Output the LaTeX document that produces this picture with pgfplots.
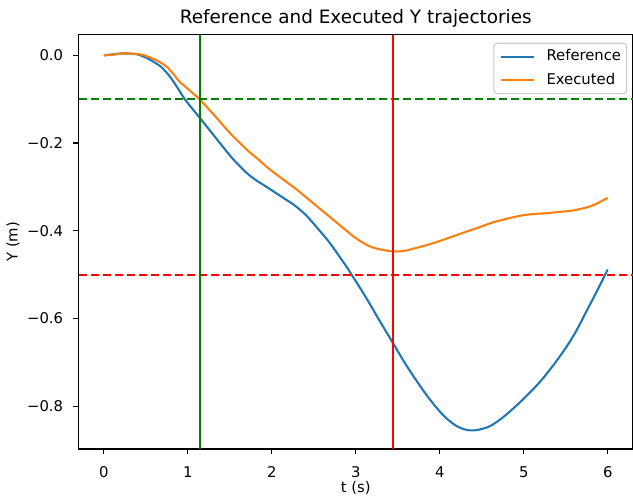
\documentclass[border=0pt]{standalone}
\usepackage{fontspec}
\setmainfont{DejaVu Sans}
\usepackage{pgfplots}
\pgfplotsset{compat=1.18}

\definecolor{mplblue}{HTML}{1F77B4}
\definecolor{mplorange}{HTML}{FF7F0E}
\definecolor{mplgreen}{HTML}{008000}
\definecolor{mplred}{HTML}{FF0000}

% Planned (reference) trajectory, Y component
\pgfplotstableread{
t y
0.00 0.000
0.10 0.002
0.20 0.004
0.30 0.004
0.40 0.002
0.50 -0.005
0.60 -0.016
0.68 -0.026
0.78 -0.047
0.87 -0.072
0.96 -0.099
1.05 -0.121
1.14 -0.142
1.24 -0.166
1.34 -0.190
1.44 -0.214
1.54 -0.237
1.64 -0.257
1.73 -0.273
1.83 -0.287
1.93 -0.299
2.01 -0.309
2.09 -0.319
2.17 -0.329
2.25 -0.339
2.33 -0.351
2.41 -0.365
2.49 -0.382
2.57 -0.400
2.65 -0.418
2.73 -0.438
2.81 -0.460
2.89 -0.482
2.96 -0.503
3.04 -0.527
3.14 -0.558
3.28 -0.604
3.44 -0.655
3.58 -0.700
3.72 -0.741
3.86 -0.779
4.00 -0.812
4.10 -0.831
4.20 -0.845
4.30 -0.853
4.37 -0.855
4.45 -0.854
4.59 -0.846
4.72 -0.830
4.87 -0.806
5.03 -0.777
5.19 -0.745
5.35 -0.707
5.50 -0.667
5.62 -0.630
5.74 -0.586
5.87 -0.538
6.00 -0.488
}\reftraj

% Executed trajectory, Y component
\pgfplotstableread{
t y
0.00 0.000
0.10 0.001
0.20 0.004
0.30 0.004
0.40 0.003
0.50 -0.001
0.55 -0.005
0.62 -0.011
0.70 -0.019
0.76 -0.028
0.83 -0.043
0.90 -0.060
0.98 -0.073
1.05 -0.085
1.14 -0.100
1.24 -0.121
1.34 -0.142
1.44 -0.164
1.54 -0.185
1.62 -0.200
1.73 -0.220
1.85 -0.239
1.93 -0.253
2.05 -0.271
2.17 -0.288
2.29 -0.305
2.41 -0.324
2.53 -0.343
2.65 -0.362
2.77 -0.381
2.89 -0.400
2.96 -0.411
3.04 -0.422
3.12 -0.431
3.20 -0.438
3.28 -0.442
3.36 -0.445
3.44 -0.447
3.52 -0.447
3.60 -0.445
3.68 -0.441
3.80 -0.435
3.94 -0.427
4.08 -0.418
4.27 -0.405
4.47 -0.392
4.63 -0.381
4.79 -0.373
4.95 -0.366
5.10 -0.362
5.27 -0.360
5.42 -0.357
5.58 -0.354
5.70 -0.349
5.78 -0.345
5.86 -0.339
5.94 -0.331
6.00 -0.325
}\exetraj

\begin{document}
\begin{tikzpicture}
\begin{axis}[
  at={(0pt,0pt)}, anchor=south west,
  scale only axis, width=415.7pt, height=310.7pt,
  xmin=-0.3, xmax=6.3, ymin=-0.8974, ymax=0.0469,
  axis line style={line width=0.83pt, black},
  tick style={line width=0.83pt, black},
  tick align=outside, major tick length=3.9pt,
  tick pos=left,
  xtick={0,1,2,3,4,5,6},
  xticklabels={0,1,2,3,4,5,6},
  ytick={-0.8,-0.6,-0.4,-0.2,0},
  yticklabels={−0.8,−0.6,−0.4,−0.2,0.0},
  tick label style={font=\fontsize{11.1}{13}\selectfont, inner sep=0pt},
  xticklabel style={anchor=base, yshift=-17.2pt},
  yticklabel style={anchor=east, xshift=-7.6pt},
  every axis title shift=0pt,
  title={Reference and Executed Y trajectories},
  title style={at={(axis description cs:0.5,1.0275)}, anchor=base,
    font=\fontsize{13.8}{16}\selectfont, inner sep=0pt},
  xlabel={t (s)},
  xlabel style={at={(axis description cs:0.5,-0.1060)}, anchor=base,
    font=\fontsize{11.1}{13}\selectfont, inner sep=0pt},
  ylabel={Y (m)},
  ylabel style={at={(axis description cs:-0.110,0.5)}, anchor=base,
    font=\fontsize{11.1}{13}\selectfont, inner sep=0pt},
  legend image code/.code={\draw[#1] (0pt,0pt) -- (25pt,0pt);},
  legend cell align=left,
  legend style={at={(rel axis cs:0.9897,0.9807)}, anchor=north east,
    draw=black!20, line width=0.8pt, rounded corners=2.5pt,
    fill=white, fill opacity=0.8, text opacity=1,
    font=\fontsize{11.1}{13}\selectfont,
    inner xsep=4.2pt, inner ysep=4.5pt, row sep=6.8pt,
    nodes={inner sep=0pt, text height=8.4pt, text depth=2.6pt},
    /tikz/every odd column/.append style={column sep=8.7pt}},
  every axis plot/.append style={line join=round},
]
\addplot[mplblue, line width=1.56pt, smooth] table[x=t, y=y] {\reftraj};
\addlegendentry{Reference}
\addplot[mplorange, line width=1.56pt, smooth] table[x=t, y=y] {\exetraj};
\addlegendentry{Executed}

% thresholds
\addplot[mplgreen, line width=1.56pt, dash pattern=on 6.5pt off 2.5pt, forget plot]
  coordinates {(-0.3,-0.1) (6.3,-0.1)};
\addplot[mplred, line width=1.56pt, dash pattern=on 6.5pt off 2.5pt, forget plot]
  coordinates {(-0.3,-0.5) (6.3,-0.5)};
% event times
\addplot[mplgreen, line width=1.56pt, forget plot]
  coordinates {(1.14,-0.8974) (1.14,0.0469)};
\addplot[mplred, line width=1.56pt, forget plot]
  coordinates {(3.44,-0.8974) (3.44,0.0469)};
\end{axis}
\pgfresetboundingbox
\path (-59.0pt,-39.75pt) rectangle (415.75pt,336.75pt);
\end{tikzpicture}
\end{document}
